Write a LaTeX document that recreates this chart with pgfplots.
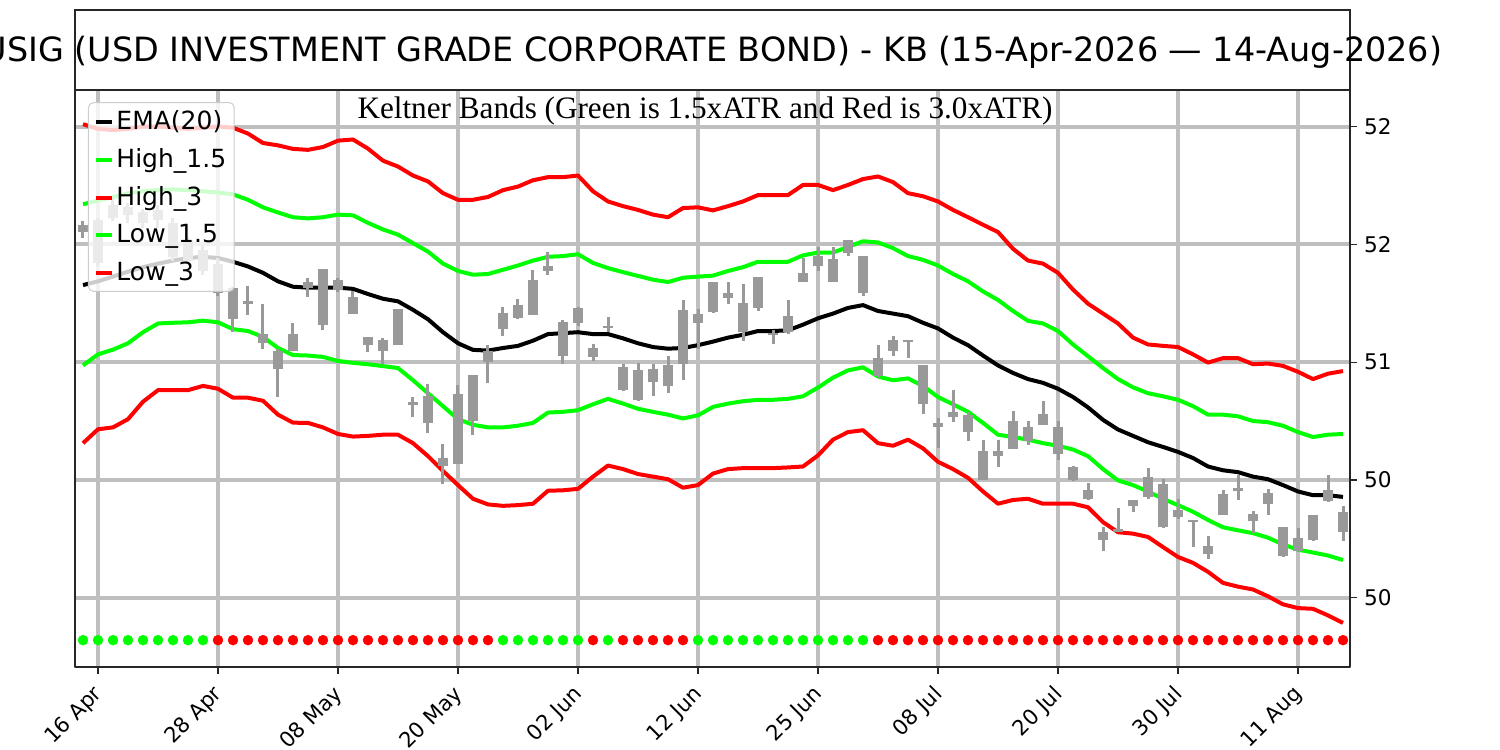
\documentclass[border=0pt]{standalone}
\usepackage{fontspec}
\setmainfont{DejaVu Sans}
\newfontfamily\subfont{Liberation Serif}
\usepackage{pgfplots}
\usepackage{pgfplotstable}
\pgfplotsset{compat=1.18}
\definecolor{lime}{RGB}{0,255,0}
\definecolor{pred}{RGB}{255,0,0}
\definecolor{candlegray}{RGB}{153,153,153}
\definecolor{gridgray}{RGB}{191,191,191}
\definecolor{legendgray}{RGB}{204,204,204}

\pgfplotstableread{
i ema h15 h3 l15 l3
0 51.327 51.670 52.010 50.986 50.656
1 51.343 51.686 51.990 51.033 50.715
2 51.363 51.700 51.985 51.053 50.723
3 51.384 51.717 51.990 51.080 50.758
4 51.403 51.725 52.000 51.127 50.832
5 51.418 51.730 52.000 51.164 50.881
6 51.431 51.733 51.995 51.167 50.881
7 51.442 51.730 51.990 51.169 50.881
8 51.447 51.725 51.995 51.176 50.899
9 51.442 51.720 52.000 51.169 50.887
10 51.426 51.712 51.995 51.140 50.849
11 51.406 51.689 51.970 51.132 50.849
12 51.379 51.657 51.930 51.107 50.836
13 51.343 51.635 51.920 51.060 50.777
14 51.320 51.615 51.905 51.030 50.743
15 51.316 51.610 51.901 51.028 50.742
16 51.316 51.615 51.913 51.022 50.723
17 51.316 51.626 51.940 51.005 50.695
18 51.311 51.623 51.945 50.997 50.684
19 51.289 51.591 51.906 50.991 50.687
20 51.269 51.563 51.855 50.983 50.692
21 51.258 51.541 51.830 50.975 50.692
22 51.222 51.505 51.792 50.923 50.656
23 51.182 51.469 51.767 50.868 50.601
24 51.127 51.418 51.717 50.813 50.538
25 51.080 51.387 51.689 50.758 50.478
26 51.052 51.371 51.689 50.734 50.420
27 51.049 51.374 51.701 50.723 50.396
28 51.060 51.392 51.730 50.723 50.390
29 51.069 51.410 51.745 50.730 50.393
30 51.091 51.431 51.772 50.742 50.399
31 51.119 51.447 51.785 50.786 50.454
32 51.123 51.450 51.785 50.789 50.456
33 51.127 51.458 51.792 50.796 50.462
34 51.119 51.421 51.725 50.821 50.514
35 51.119 51.399 51.682 50.844 50.561
36 51.101 51.382 51.662 50.824 50.546
37 51.080 51.366 51.646 50.802 50.525
38 51.064 51.350 51.626 50.789 50.514
39 51.057 51.340 51.615 50.777 50.503
40 51.060 51.358 51.654 50.761 50.467
41 51.072 51.363 51.657 50.774 50.478
42 51.087 51.367 51.644 50.810 50.527
43 51.104 51.387 51.662 50.824 50.546
44 51.116 51.403 51.682 50.834 50.550
45 51.132 51.426 51.709 50.840 50.550
46 51.132 51.425 51.709 50.840 50.550
47 51.135 51.426 51.709 50.844 50.553
48 51.159 51.453 51.752 50.855 50.557
49 51.186 51.465 51.752 50.892 50.604
50 51.206 51.465 51.730 50.934 50.671
51 51.230 51.489 51.752 50.965 50.703
52 51.242 51.513 51.777 50.978 50.711
53 51.217 51.508 51.788 50.939 50.656
54 51.206 51.484 51.764 50.923 50.645
55 51.195 51.450 51.717 50.931 50.671
56 51.167 51.434 51.704 50.899 50.634
57 51.143 51.410 51.682 50.852 50.577
58 51.104 51.374 51.646 50.821 50.546
59 51.072 51.343 51.615 50.789 50.509
60 51.028 51.300 51.583 50.742 50.451
61 50.986 51.264 51.552 50.692 50.399
62 50.954 51.217 51.481 50.682 50.415
63 50.928 51.175 51.431 50.671 50.420
64 50.912 51.164 51.418 50.656 50.399
65 50.887 51.132 51.379 50.645 50.399
66 50.852 51.075 51.308 50.629 50.399
67 50.808 51.025 51.248 50.601 50.384
68 50.755 50.975 51.206 50.546 50.321
69 50.714 50.928 51.164 50.498 50.278
70 50.687 50.893 51.104 50.478 50.272
71 50.660 50.868 51.075 50.451 50.258
72 50.640 50.855 51.069 50.420 50.215
73 50.619 50.840 51.064 50.393 50.173
74 50.593 50.813 51.033 50.365 50.148
75 50.557 50.777 50.998 50.330 50.110
76 50.541 50.777 51.017 50.299 50.063
77 50.533 50.770 51.017 50.286 50.047
78 50.514 50.750 50.991 50.274 50.035
79 50.503 50.745 50.994 50.255 50.006
80 50.478 50.730 50.984 50.226 49.972
81 50.451 50.703 50.959 50.204 49.956
82 50.435 50.682 50.928 50.192 49.953
83 50.435 50.692 50.951 50.179 49.925
84 50.428 50.695 50.962 50.160 49.893
}\bands

\pgfplotstableread{
i l bb bt h
0 51.528 51.552 51.583 51.599
1 51.410 51.419 51.602 51.610
2 51.600 51.610 51.665 51.695
3 51.589 51.623 51.657 51.674
4 51.570 51.589 51.636 51.650
5 51.568 51.602 51.644 51.665
6 51.430 51.445 51.589 51.610
7 51.418 51.430 51.517 51.530
8 51.369 51.387 51.475 51.496
9 51.280 51.292 51.418 51.440
10 51.127 51.182 51.316 51.320
11 51.198 51.245 51.261 51.324
12 51.057 51.080 51.119 51.245
13 50.852 50.970 51.049 51.057
14 51.049 51.049 51.119 51.167
15 51.277 51.316 51.340 51.355
16 51.138 51.159 51.395 51.395
17 51.296 51.308 51.347 51.358
18 51.203 51.206 51.277 51.300
19 51.044 51.072 51.107 51.107
20 50.994 51.049 51.096 51.101
21 51.072 51.072 51.226 51.226
22 50.766 50.818 50.830 50.852
23 50.698 50.742 50.855 50.907
24 50.483 50.557 50.593 50.651
25 50.569 50.569 50.865 50.903
26 50.692 50.750 50.947 50.947
27 50.912 51.002 51.049 51.072
28 51.112 51.140 51.210 51.235
29 51.182 51.187 51.241 51.267
30 51.201 51.201 51.347 51.390
31 51.368 51.387 51.410 51.469
32 50.991 51.028 51.170 51.179
33 51.154 51.167 51.230 51.233
34 51.005 51.022 51.060 51.075
35 51.127 51.143 51.153 51.190
36 50.876 50.880 50.978 50.990
37 50.837 50.840 50.967 50.997
38 50.855 50.915 50.970 50.990
39 50.868 50.899 50.986 51.025
40 50.923 50.994 51.222 51.264
41 51.057 51.164 51.206 51.225
42 51.210 51.211 51.340 51.340
43 51.245 51.274 51.292 51.340
44 51.091 51.127 51.253 51.332
45 51.217 51.230 51.363 51.363
46 51.075 51.114 51.124 51.138
47 51.119 51.127 51.195 51.264
48 51.340 51.340 51.379 51.442
49 51.387 51.406 51.450 51.489
50 51.340 51.340 51.437 51.489
51 51.450 51.465 51.520 51.520
52 51.280 51.292 51.450 51.450
53 50.931 50.939 51.017 51.072
54 51.025 51.049 51.096 51.112
55 51.017 51.084 51.094 51.096
56 50.781 50.821 50.986 50.986
57 50.635 50.726 50.742 50.761
58 50.745 50.766 50.789 50.880
59 50.664 50.703 50.777 50.789
60 50.498 50.498 50.624 50.671
61 50.553 50.601 50.624 50.671
62 50.632 50.632 50.750 50.792
63 50.648 50.664 50.726 50.750
64 50.734 50.734 50.781 50.833
65 50.585 50.608 50.726 50.750
66 50.494 50.498 50.553 50.557
67 50.415 50.420 50.459 50.487
68 50.200 50.247 50.278 50.302
69 50.278 50.281 50.291 50.381
70 50.365 50.388 50.415 50.415
71 50.420 50.428 50.514 50.550
72 50.294 50.302 50.483 50.503
73 50.333 50.341 50.373 50.420
74 50.215 50.320 50.330 50.330
75 50.164 50.184 50.220 50.263
76 50.352 50.352 50.440 50.459
77 50.415 50.451 50.467 50.522
78 50.274 50.326 50.357 50.368
79 50.352 50.399 50.443 50.462
80 50.173 50.176 50.302 50.302
81 50.192 50.200 50.252 50.294
82 50.242 50.247 50.352 50.352
83 50.407 50.412 50.459 50.522
84 50.239 50.278 50.362 50.388
}\candles

\begin{document}
\begin{tikzpicture}
\useasboundingbox (0pt,0pt) rectangle (750pt,375pt);
\begin{axis}[
  at={(37.5pt,41.5pt)}, anchor=south west,
  scale only axis, width=637.5pt, height=288.5pt,
  xmin=-0.533, xmax=84.467,
  ymin=49.706, ymax=52.155,
  xtick={1,9,17,25,33,41,49,57,65,73,81},
  xticklabels={16 Apr,28 Apr,08 May,20 May,02 Jun,12 Jun,25 Jun,08 Jul,20 Jul,30 Jul,11 Aug},
  ytick={50,50.5,51,51.5,52},
  yticklabels={50,50,51,52,52},
  xtick pos=bottom, ytick pos=right, yticklabel pos=right,
  tick align=outside, major tick length=3.5pt,
  tick style={black!85, line width=0.6pt},
  axis line style={black!85, line width=0.65pt},
  grid=major,
  major grid style={gridgray, line width=2pt},
  xticklabel style={font=\fontsize{10.6}{12.5}\selectfont, xshift=-3pt, rotate=45, anchor=north east},
  yticklabel style={font=\fontsize{10.8}{13}\selectfont},
  legend cell align=left,
  legend image code/.code={\draw[#1, line width=2pt] (0pt,0pt) -- (8pt,0pt);},
  legend style={at={(0.0102,0.979)}, anchor=north west, draw=legendgray, line width=0.5pt,
    fill=white, fill opacity=0.8, draw opacity=1, text opacity=1, rounded corners=2.5pt,
    font=\fontsize{12.5}{14}\selectfont, row sep=6pt, inner xsep=3pt, inner ysep=3pt,
    nodes={inner sep=1pt}},
  line join=round,
]
\addplot[black, line width=2pt] table[x=i, y=ema] {\bands};
\addlegendentry{EMA(20)}
\addplot[lime, line width=2pt] table[x=i, y=h15] {\bands};
\addlegendentry{High\_1.5}
\addplot[pred, line width=2pt] table[x=i, y=h3] {\bands};
\addlegendentry{High\_3}
\addplot[lime, line width=2pt] table[x=i, y=l15] {\bands};
\addlegendentry{Low\_1.5}
\addplot[pred, line width=2pt] table[x=i, y=l3] {\bands};
\addlegendentry{Low\_3}

\pgfplotsinvokeforeach{0,...,84}{
  \pgfplotstablegetelem{#1}{l}\of\candles \edef\cl{\pgfplotsretval}
  \pgfplotstablegetelem{#1}{h}\of\candles \edef\ch{\pgfplotsretval}
  \pgfplotstablegetelem{#1}{bb}\of\candles \edef\cbb{\pgfplotsretval}
  \pgfplotstablegetelem{#1}{bt}\of\candles \edef\cbt{\pgfplotsretval}
  \edef\candleplot{%
    \noexpand\addplot[candlegray, line width=1.5pt, forget plot] coordinates {(#1,\cl) (#1,\ch)};%
    \noexpand\addplot[candlegray, line width=5pt, forget plot] coordinates {(#1,\cbb) (#1,\cbt)};%
  }\candleplot
}

\addplot[lime, only marks, mark=*, mark size=2.5pt, mark options={line width=0.2pt}, forget plot] coordinates {
(0,49.82) (1,49.82) (2,49.82) (3,49.82) (4,49.82) (5,49.82) (6,49.82) (7,49.82) (8,49.82)
(28,49.82) (29,49.82) (30,49.82) (31,49.82) (32,49.82) (33,49.82) (35,49.82)
(41,49.82) (42,49.82) (43,49.82) (44,49.82) (45,49.82) (46,49.82) (47,49.82) (48,49.82) (49,49.82) (50,49.82) (51,49.82) (52,49.82)
};
\addplot[pred, only marks, mark=*, mark size=2.5pt, mark options={line width=0.2pt}, forget plot] coordinates {
(9,49.82) (10,49.82) (11,49.82) (12,49.82) (13,49.82) (14,49.82) (15,49.82) (16,49.82) (17,49.82) (18,49.82)
(19,49.82) (20,49.82) (21,49.82) (22,49.82) (23,49.82) (24,49.82) (25,49.82) (26,49.82) (27,49.82)
(34,49.82) (36,49.82) (37,49.82) (38,49.82) (39,49.82) (40,49.82)
(53,49.82) (54,49.82) (55,49.82) (56,49.82) (57,49.82) (58,49.82) (59,49.82) (60,49.82) (61,49.82) (62,49.82)
(63,49.82) (64,49.82) (65,49.82) (66,49.82) (67,49.82) (68,49.82) (69,49.82) (70,49.82) (71,49.82) (72,49.82)
(73,49.82) (74,49.82) (75,49.82) (76,49.82) (77,49.82) (78,49.82) (79,49.82) (80,49.82) (81,49.82) (82,49.82)
(83,49.82) (84,49.82)
};
\end{axis}
\node[font=\subfont\fontsize{15.6}{18}\selectfont, anchor=base] at (352.5pt,315.5pt) {Keltner Bands (Green is 1.5xATR and Red is 3.0xATR)};
\draw[black!85, line width=0.65pt] (37.5pt,330pt) rectangle (675pt,370pt);
\node[font=\fontsize{16.7}{19}\selectfont, anchor=base] at (356.25pt,344pt) {USIG (USD INVESTMENT GRADE CORPORATE BOND) - KB (15-Apr-2026 — 14-Aug-2026)};
\end{tikzpicture}
\end{document}
